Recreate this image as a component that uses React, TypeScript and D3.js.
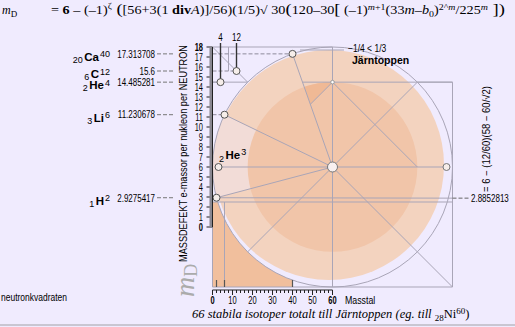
import React from "react";
import * as d3 from "d3";

// ---- data ----
const isoSymbols = ["Ca", "C", "He", "Li", "H"];
const isoZ = [20, 6, 2, 3, 1];
const isoA = [40, 12, 4, 6, 2];
const isoMD = [17.313708, 15.6, 14.485281, 11.230678, 2.9275417];
const isoLabels = ["17.313708", "15.6", "14.485281", "11.230678", "2.9275417"];
const he3 = { A: 3, md: 6, Z: 2 };
const centerPt = { A: 60, md: 6 };
const rightPt = { A: 117, md: 6 };
const ironValue = 2.8852813;
const ironLabel = "2.8852813";
const lowLine = 2.5;
const yTicks = d3.range(0, 19, 1);
const xTickLabels = [0, 10, 20, 30, 40, 50, 60];
const topMarks = [4, 12];
const bottomMarks = [2, 6, 40];

const W = 515;
const H = 327;
const BG = "#F0EBFE";
const LINE = "#A9A5B7";
const SANS = "'Liberation Sans', Arial, sans-serif";
const SERIF = "'Liberation Serif', 'Times New Roman', serif";

function SText(props: { x: number; y: number; sx: number; anchor?: string; size?: number; bold?: boolean; children: any }) {
  const { x, y, sx, anchor = "start", size = 10, bold = false, children } = props;
  return (
    <g transform={`translate(${x},${y}) scale(${sx},1)`}>
      <text x={0} y={0} textAnchor={anchor} fontFamily={SANS} fontSize={size} fontWeight={bold ? "bold" : "normal"}>
        {children}
      </text>
    </g>
  );
}

export default function App() {
  const x = d3.scaleLinear().domain([0, 120]).range([212.5, 452.5]);
  const y = d3.scaleLinear().domain([-6, 18]).range([287, 47]);
  const cx = x(centerPt.A);
  const cy = y(centerPt.md);
  const R = x(120) - cx;
  const r2 = R / Math.SQRT2;

  const ang = (a: number, m: number) => Math.atan2(x(a) - cx, -(y(m) - cy));
  const liAng = ang(isoA[3], isoMD[3]);
  const hAng = ang(isoA[4], isoMD[4]);
  const pinkWedge = d3.arc()({ innerRadius: 0, outerRadius: R, startAngle: hAng, endAngle: liAng } as any) as string;

  // Ca40 spoke geometry
  const caX = x(isoA[0]) - cx;
  const caY = y(isoMD[0]) - cy;
  const caL = Math.hypot(caX, caY);
  const tIn = r2 / caL;
  const pA: [number, number] = [cx + caX * tIn, cy + caY * tIn];
  const topV: [number, number] = [cx, cy - r2];
  const tX = (cy - topV[1] - (topV[0] - cx)) / (-caY - caX);
  const pB: [number, number] = [cx + caX * tX, cy + caY * tX];
  const aStart = Math.atan2(pA[0] - cx, -(pA[1] - cy));
  const arcPts = d3.range(0, 1.0001, 0.1).map((f) => {
    const a = aStart * (1 - f);
    return [cx + r2 * Math.sin(a), cy - r2 * Math.cos(a)];
  });
  const darkTri = d3.line()([...arcPts, pB] as any) + "Z";
  const yHe4 = y(isoMD[2]);
  const spokeAtHe4 = cx + caX * ((yHe4 - cy) / caY);

  const minorY = d3.range(0, 18.001, 0.2);
  const minorX = d3.range(0, 60.001, 2);

  return (
    <svg width={W} height={H} style={{ position: "absolute", left: 0, top: 0, background: BG }}>
      <rect x={0} y={0} width={W} height={H} fill={BG} />
      {/* formula */}
      <text x={2} y={14} fontFamily={SERIF} fontSize={12}>
        <tspan fontStyle="italic">m</tspan>
        <tspan dy={3} fontSize={9}>D</tspan>
      </text>
      <text x={51} y={14} fontFamily={SERIF} fontSize={11.5} textLength={454} lengthAdjust="spacingAndGlyphs">
        = <tspan fontWeight="bold">6</tspan> – (–1)<tspan dy={-5} fontSize={8}>ζ</tspan>
        <tspan dy={5} fontSize={15}> (</tspan>[56+3(1 <tspan fontWeight="bold">div</tspan><tspan fontStyle="italic">A</tspan>)]/56)(1/5)√ 30<tspan fontSize={15}>(</tspan>120–30<tspan fontSize={15}>[</tspan> (–1)<tspan dy={-4} fontSize={8} fontStyle="italic">m</tspan><tspan fontSize={8}>+1</tspan><tspan dy={4}>(33</tspan><tspan fontStyle="italic">m</tspan>–<tspan fontStyle="italic">b</tspan><tspan dy={3} fontSize={8}>0</tspan><tspan dy={-3}>)</tspan><tspan dy={-4} fontSize={8}>2^</tspan><tspan fontSize={8} fontStyle="italic">m</tspan><tspan dy={4}>/225</tspan><tspan dy={-4} fontSize={8} fontStyle="italic">m</tspan><tspan dy={4} fontSize={15}> ])</tspan>
      </text>

      {/* lower-left corner fill */}
      <rect x={x(0)} y={y(lowLine)} width={x(40) - x(0)} height={y(-6) - y(lowLine)} fill="#F1BF9D" />
      {/* lines under fill */}
      <line x1={x(0)} y1={y(18)} x2={cx} y2={cy} stroke={LINE} />
      <line x1={x(0)} y1={yHe4} x2={x(120)} y2={yHe4} stroke={LINE} />
      {/* gap ring */}
      <circle cx={cx} cy={cy} r={R} fill={BG} />
      {/* peach disk */}
      <circle cx={cx - 3.5} cy={cy - 2} r={R - 5} fill="#F3D3BF" />
      <path d={pinkWedge} transform={`translate(${cx},${cy})`} fill="#F2DCD7" />
      <circle cx={cx} cy={cy} r={r2} fill="#F1C5A9" />
      <path d={darkTri} fill="#F0B995" />

      {/* outline circle */}
      <circle cx={cx} cy={cy} r={R} fill="none" stroke={LINE} />
      {/* box */}
      <line x1={x(0)} y1={y(18)} x2={x(0)} y2={y(-6)} stroke={LINE} />
      <line x1={x(0)} y1={y(-6)} x2={x(120)} y2={y(-6)} stroke={LINE} />
      <line x1={x(120)} y1={yHe4} x2={x(120)} y2={y(-6)} stroke={LINE} />
      <line x1={x(0)} y1={y(18)} x2={cx} y2={y(18)} stroke={LINE} />
      <line x1={cx} y1={y(18)} x2={cx} y2={y(-6)} stroke={LINE} />
      <line x1={x(8)} y1={y(18)} x2={x(8)} y2={y(isoMD[1])} stroke={LINE} />
      <line x1={x(isoA[2])} y1={yHe4} x2={x(0)} y2={yHe4} stroke={LINE} />
      <line x1={spokeAtHe4} y1={yHe4} x2={x(120)} y2={yHe4} stroke={LINE} />
      <line x1={x(he3.A)} y1={cy} x2={x(rightPt.A)} y2={cy} stroke={LINE} />
      <line x1={x(isoA[4])} y1={y(isoMD[4])} x2={x(120)} y2={y(ironValue)} stroke={LINE} />
      <line x1={x(0)} y1={y(lowLine)} x2={x(120)} y2={y(lowLine)} stroke={LINE} />
      <line x1={x(6)} y1={y(lowLine)} x2={x(6)} y2={y(-6)} stroke={LINE} />
      {/* diagonals */}
      <line x1={cx} y1={cy} x2={x(120)} y2={y(-6)} stroke={LINE} />
      <line x1={cx - r2} y1={cy + r2} x2={cx + r2} y2={cy - r2} stroke={LINE} />
      <line x1={cx} y1={cy - r2} x2={cx + r2} y2={cy} stroke={LINE} />
      <line x1={topV[0]} y1={topV[1]} x2={pB[0]} y2={pB[1]} stroke={LINE} />
      {/* spokes */}
      {[0, 3, 4].map((i) => (
        <line key={i} x1={cx} y1={cy} x2={x(isoA[i])} y2={y(isoMD[i])} stroke={LINE} />
      ))}
      {/* dashed leaders */}
      {[0, 1, 3].map((i) => (
        <line key={i} x1={x(0)} y1={y(isoMD[i])} x2={x(isoA[i])} y2={y(isoMD[i])} stroke="#8E8A9C" strokeDasharray="4,2" />
      ))}
      <line x1={x(120)} y1={y(ironValue)} x2={470} y2={y(ironValue)} stroke="#666" strokeDasharray="4,2" />
      {/* top label leader */}
      <line x1={300} y1={50} x2={344} y2={50} stroke={LINE} />

      {/* top marks */}
      {topMarks.map((m, i) => (
        <g key={m}>
          <line x1={x(m)} y1={43} x2={x(m)} y2={y(isoMD[i === 0 ? 2 : 1]) - 3} stroke="#333" strokeWidth={1.4} />
          <SText x={x(m)} y={41} sx={0.8} anchor="middle">{m}</SText>
        </g>
      ))}
      {/* bottom marks */}
      {bottomMarks.map((m) => (
        <line key={m} x1={x(m)} y1={y(-5.3)} x2={x(m)} y2={y(-6)} stroke="#555" strokeWidth={1.2} />
      ))}

      {/* points */}
      {isoA.map((a, i) => (
        <circle key={i} cx={x(a)} cy={y(isoMD[i])} r={3.5} fill="#F6EEEA" stroke="#555" />
      ))}
      <circle cx={x(he3.A)} cy={cy} r={3.5} fill="#F6EEEA" stroke="#555" />
      <circle cx={x(rightPt.A)} cy={cy} r={3.5} fill="#F6EEEA" stroke="#777" />
      <circle cx={cx} cy={cy} r={5} fill="#F8F0F0" stroke="#777" />
      <circle cx={cx} cy={yHe4} r={1.8} fill="#fff" stroke="#999" />

      {/* y axis */}
      <line x1={x(0)} y1={y(0)} x2={x(0)} y2={y(18)} stroke="#222" />
      {minorY.map((v) => {
        const major = Math.abs(v - Math.round(v)) < 1e-6;
        return <line key={v} x1={major ? 206.5 : 209.5} y1={y(v)} x2={x(0)} y2={y(v)} stroke="#222" />;
      })}
      {yTicks.map((v) => (
        <SText key={v} x={203} y={y(v) + 3.5} sx={0.75} anchor="end" bold={v === 0 || v === 18}>
          {v}
        </SText>
      ))}
      {/* x axis */}
      <line x1={x(0)} y1={290} x2={x(60)} y2={290} stroke="#222" />
      {minorX.map((v) => (
        <line key={v} x1={x(v)} y1={290} x2={x(v)} y2={v % 10 === 0 ? 295 : 293} stroke="#222" />
      ))}
      {xTickLabels.map((v) => (
        <SText key={v} x={x(v)} y={304} sx={0.75} anchor="middle" bold={v === 0 || v === 60}>
          {v}
        </SText>
      ))}
      <SText x={345} y={304} sx={0.88}>Masstal</SText>

      {/* isotope labels */}
      {isoSymbols.map((s, i) => {
        const yy = y(isoMD[i]);
        return (
          <g key={s}>
            <text x={110} y={yy + 7} textAnchor="end" fontFamily={SANS} fontSize={11.5}>
              <tspan fontSize={9} dy={2}>{isoZ[i]}</tspan>
              <tspan fontWeight="bold" dy={-2} dx={1.5}>{s}</tspan>
              <tspan fontSize={9} dy={-3.5} dx={1}>{isoA[i]}</tspan>
            </text>
            <SText x={155} y={yy + 3.8} sx={0.8} anchor="end">{isoLabels[i]}</SText>
            <line x1={157} y1={yy} x2={173} y2={yy} stroke="#777" strokeDasharray="4,2" />
          </g>
        );
      })}
      {/* He3 label */}
      <text x={219} y={159} fontFamily={SANS} fontSize={11.5}>
        <tspan fontSize={9} dy={3}>2</tspan>
        <tspan fontWeight="bold" dy={-3} dx={1.5}>He</tspan>
        <tspan fontSize={9} dy={-4} dx={1}>3</tspan>
      </text>

      {/* axis title */}
      <text transform={`translate(187,262) rotate(-90)`} fontFamily={SANS} fontSize={10} textLength={217} lengthAdjust="spacingAndGlyphs">
        MASSDEFEKT e-massor per nukleon per NEUTRON
      </text>
      <text transform={`translate(194,297) rotate(-90)`} fontFamily={SERIF} fontSize={28} fill="#ABABAB" fontStyle="italic">
        m<tspan fontSize={18} fontStyle="normal" dy={3}>D</tspan>
      </text>

      {/* right labels */}
      <SText x={348} y={52} sx={0.85}>−1/4 &lt; 1/3</SText>
      <text x={352} y={63.5} fontFamily={SANS} fontSize={10.5} fontWeight="bold">Järntoppen</text>
      <text transform={`translate(490,192) rotate(-90)`} fontFamily={SANS} fontSize={10} textLength={106} lengthAdjust="spacingAndGlyphs">
        = 6 − (12/60)(58 − 60/√2)
      </text>
      <SText x={471} y={y(ironValue) + 3.8} sx={0.8}>{ironLabel}</SText>

      <SText x={1} y={301} sx={0.85}>neutronkvadraten</SText>
      <text x={192} y={318} fontFamily={SERIF} fontStyle="italic" fontSize={12.5}>
        66 stabila isotoper totalt till Järntoppen (eg. till <tspan fontStyle="normal" fontSize={9} dy={3}>28</tspan><tspan fontStyle="normal" dy={-3}>Ni</tspan><tspan fontStyle="normal" fontSize={9} dy={-4}>60</tspan><tspan fontStyle="normal" dy={4}>)</tspan>
      </text>
      <rect x={0} y={324} width={W} height={2} fill="#C9C6D2" />
    </svg>
  );
}
